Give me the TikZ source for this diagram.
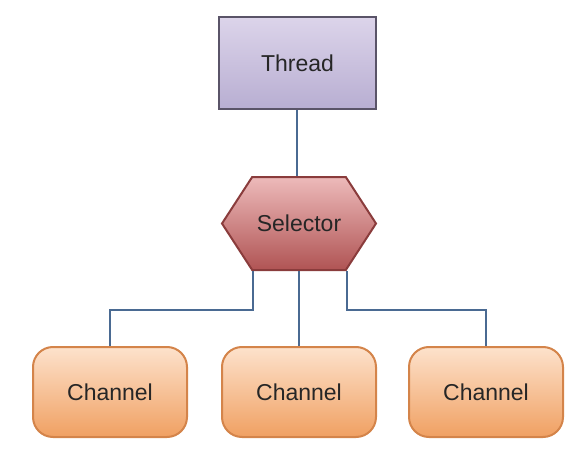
\documentclass[tikz,border=0pt]{standalone}
\usepackage{fontspec}
\setmainfont{Liberation Sans}
\usetikzlibrary{shapes.symbols}
\definecolor{linkblue}{HTML}{4A6A92}
\definecolor{thrdraw}{HTML}{5A5468}
\definecolor{thrtop}{HTML}{DCD4EA}
\definecolor{thrbot}{HTML}{B8AED2}
\definecolor{seldraw}{HTML}{8A3C3C}
\definecolor{seltop}{HTML}{EDBABA}
\definecolor{selbot}{HTML}{B05454}
\definecolor{chandraw}{HTML}{D4844A}
\definecolor{chantop}{HTML}{FDE2CC}
\definecolor{chanbot}{HTML}{F0A062}
\begin{document}
\begin{tikzpicture}[x=1pt,y=-1pt,
    every node/.style={font=\fontsize{23}{27}\selectfont,text=black!85},
    thr/.style={draw=thrdraw,line width=2.4pt,top color=thrtop,bottom color=thrbot,
        minimum width=157pt,minimum height=92pt},
    sel/.style={signal,signal to=west and east,signal pointer angle=114,draw=seldraw,line width=2pt,
        top color=seltop,bottom color=selbot,minimum width=154pt,minimum height=93pt,inner sep=0pt},
    chan/.style={draw=chandraw,line width=2pt,rounded corners=20pt,top color=chantop,bottom color=chanbot,
        minimum width=154pt,minimum height=90pt},
    link/.style={draw=linkblue,line width=2.2pt}]
    \useasboundingbox (0,0) rectangle (584,452);
    \node [thr] (thread) at (297.5,63) {Thread};
    \node [sel] (selector) at (299,223.5) {Selector};
    \node [chan] (ch1) at (110,392) {Channel};
    \node [chan] (ch2) at (299,392) {Channel};
    \node [chan] (ch3) at (486,392) {Channel};
    \draw [link] (thread.south -| 297,0) -- (selector.north -| 297,0);
    \draw [link] (selector.south) ++(-46,0) |- ([yshift=36pt]ch1.north) -- (ch1.north);
    \draw [link] (selector.south) -- (ch2.north);
    \draw [link] (selector.south) ++(48,0) |- ([yshift=36pt]ch3.north) -- (ch3.north);
\end{tikzpicture}
\end{document}
